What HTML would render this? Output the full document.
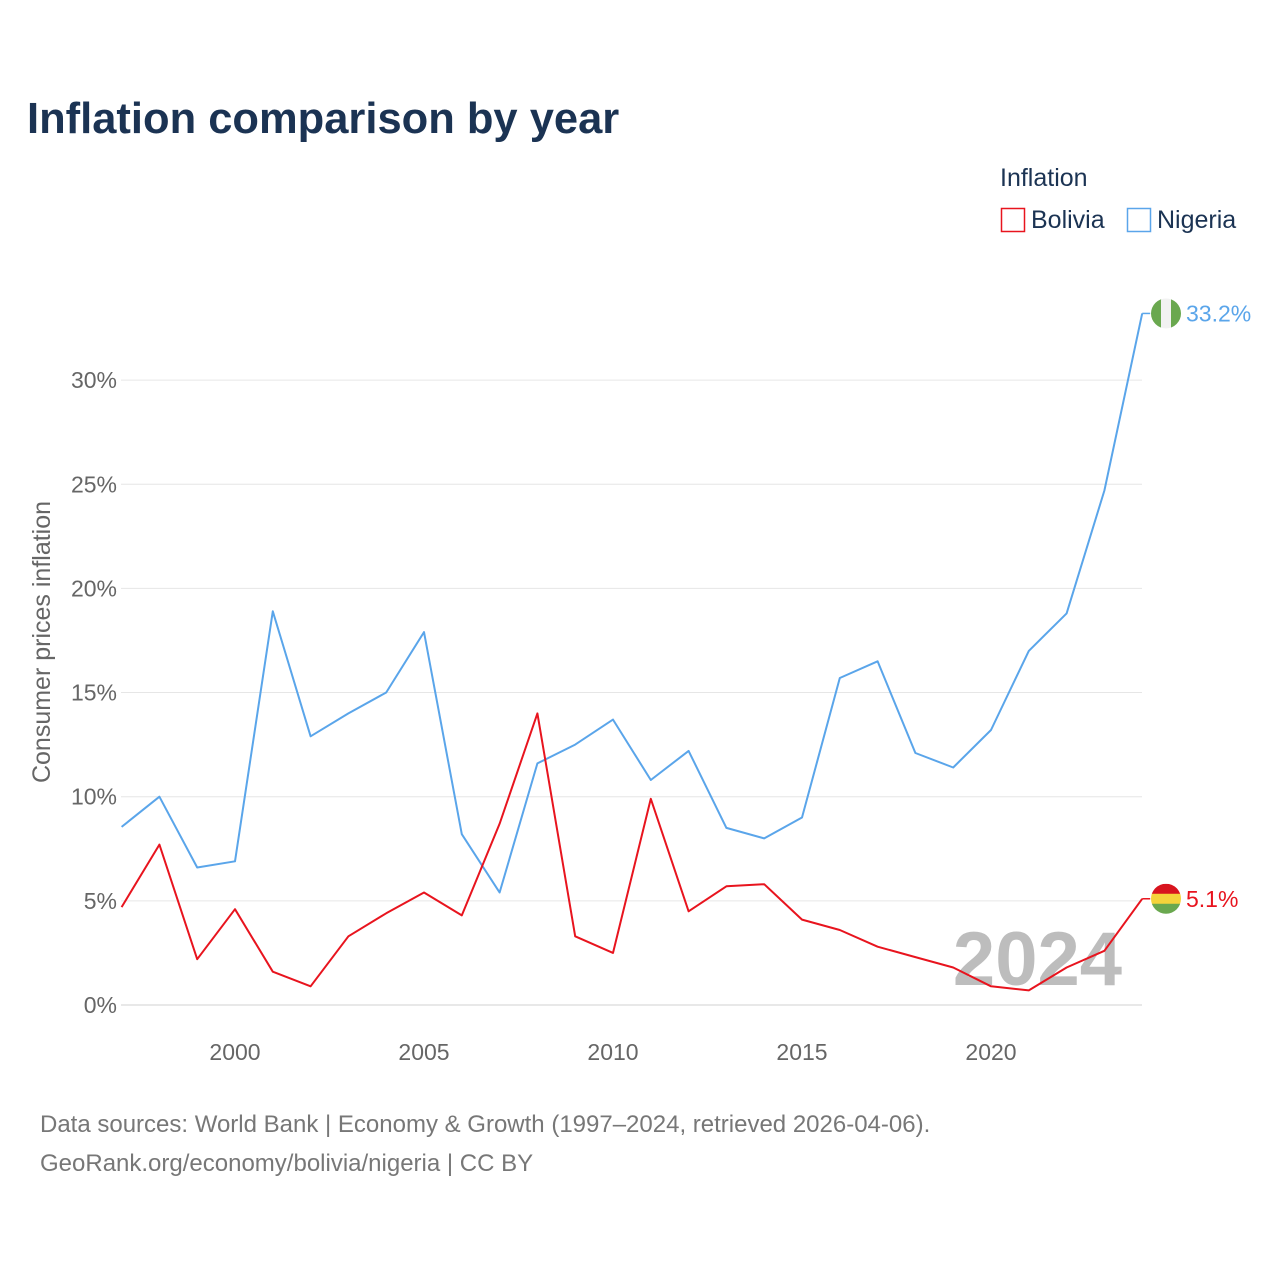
<!DOCTYPE html>
<html><head><meta charset="utf-8"><style>
body{margin:0;background:#fff}
svg{display:block;font-family:"Liberation Sans",sans-serif}
</style></head><body>
<svg id="chart" width="1280" height="1280" viewBox="0 0 1280 1280">
<rect width="1280" height="1280" fill="#fff"/>
<text x="27" y="133" font-size="43.5" font-weight="bold" fill="#1b3353">Inflation comparison by year</text>
<g>
<text x="1000" y="186" font-size="25" fill="#1b3353">Inflation</text>
<g><rect x="1001.5" y="208.5" width="23" height="23" fill="none" stroke="#e8141e" stroke-width="1.5"/><text x="1031" y="228" font-size="25" fill="#1b3353">Bolivia</text></g>
<g><rect x="1127.5" y="208.5" width="23" height="23" fill="none" stroke="#5aa5ea" stroke-width="1.5"/><text x="1157" y="228" font-size="25" fill="#1b3353">Nigeria</text></g>
</g>
<g id="grid"></g>
<g id="yticks"></g>
<g id="xticks"></g>
<text transform="translate(50,642) rotate(-90)" text-anchor="middle" font-size="25" fill="#666">Consumer prices inflation</text>
<text x="1122" y="985" text-anchor="end" font-size="76" font-weight="bold" fill="#bdbdbd">2024</text>
<g id="series"></g>
<text x="40" y="1132" font-size="24" fill="#777">Data sources: World Bank | Economy &amp; Growth (1997–2024, retrieved 2026-04-06).</text>
<text x="40" y="1171" font-size="24" fill="#777">GeoRank.org/economy/bolivia/nigeria | CC BY</text>
</svg>
<script>
const years=[1997,1998,1999,2000,2001,2002,2003,2004,2005,2006,2007,2008,2009,2010,2011,2012,2013,2014,2015,2016,2017,2018,2019,2020,2021,2022,2023,2024];
const nigeria=[8.55,10.0,6.6,6.9,18.9,12.9,14.0,15.0,17.9,8.2,5.4,11.6,12.5,13.7,10.8,12.2,8.5,8.0,9.0,15.7,16.5,12.1,11.4,13.2,17.0,18.8,24.7,33.2];
const bolivia=[4.7,7.7,2.2,4.6,1.6,0.9,3.3,4.4,5.4,4.3,8.7,14.0,3.3,2.5,9.9,4.5,5.7,5.8,4.1,3.6,2.8,2.3,1.8,0.9,0.7,1.8,2.6,5.1];
const yTicks=[0,5,10,15,20,25,30];
const xTicks=[2000,2005,2010,2015,2020];
const NS="http://www.w3.org/2000/svg";
const X=y=>121.6+(y-1997)*37.8;
const Y=v=>1005-v*20.83;
function mk(tag,attrs,parent){const e=document.createElementNS(NS,tag);for(const k in attrs)e.setAttribute(k,attrs[k]);parent.appendChild(e);return e;}
const grid=document.getElementById('grid'),yt=document.getElementById('yticks'),xt=document.getElementById('xticks'),ser=document.getElementById('series');
yTicks.forEach(t=>{
 const l=mk('line',{x1:121,x2:1142,y1:Y(t),y2:Y(t),stroke:t===0?'#d0d0d0':'#e6e6e6','stroke-width':1},grid);
 
 
 const tx=mk('text',{x:117,y:Y(t)+8,'text-anchor':'end','font-size':23,fill:'#666'},yt);
 tx.textContent=t+'%';
 
 
});
xTicks.forEach(t=>{
 const tx=mk('text',{x:X(t),y:1060,'text-anchor':'middle','font-size':23,fill:'#666'},xt);
 tx.textContent=t;
 
 
});
function line(vals,color,name){
 const d=vals.map((v,i)=>(i?'L':'M')+X(years[i]).toFixed(1)+','+Y(v).toFixed(1)).join(' ');
 const p=mk('path',{d:d,fill:'none',stroke:color,'stroke-width':2,'stroke-linejoin':'round'},ser);
 
 
 const last=vals[vals.length-1],ly=Y(last),lx=X(years[years.length-1]);
 const c=mk('line',{x1:lx,x2:lx+8,y1:ly,y2:ly,stroke:color,'stroke-width':1.5},ser);
 
 
 return {lx,ly,last};
}
const n=line(nigeria,'#5aa5ea','nigeria');
const b=line(bolivia,'#e8141e','bolivia');
function flag(cx,cy,stripes,vertical,name){
 const g=mk('g',{},ser);
 
 
 const id='clip'+name;
 const cp=mk('clipPath',{id:id},g);mk('circle',{cx:cx,cy:cy,r:15},cp);
 const w=30/stripes.length;
 stripes.forEach((c,i)=>{
  if(vertical)mk('rect',{x:cx-15+i*w,y:cy-15,width:w+0.5,height:30,fill:c,'clip-path':'url(#'+id+')'},g);
  else mk('rect',{x:cx-15,y:cy-15+i*w,width:30,height:w+0.5,fill:c,'clip-path':'url(#'+id+')'},g);
 });
}
flag(1166,n.ly,['#6aa84f','#f2f2f2','#6aa84f'],true,'nigeria');
flag(1166,b.ly,['#d8141e','#f5d33b','#6aa84f'],false,'bolivia');
const nl=mk('text',{x:1186,y:n.ly+8,'font-size':23,fill:'#5aa5ea'},ser);
nl.textContent=n.last.toFixed(1)+'%';


const bl=mk('text',{x:1186,y:b.ly+8,'font-size':23,fill:'#e8141e'},ser);
bl.textContent=b.last.toFixed(1)+'%';


</script>
</body></html>
